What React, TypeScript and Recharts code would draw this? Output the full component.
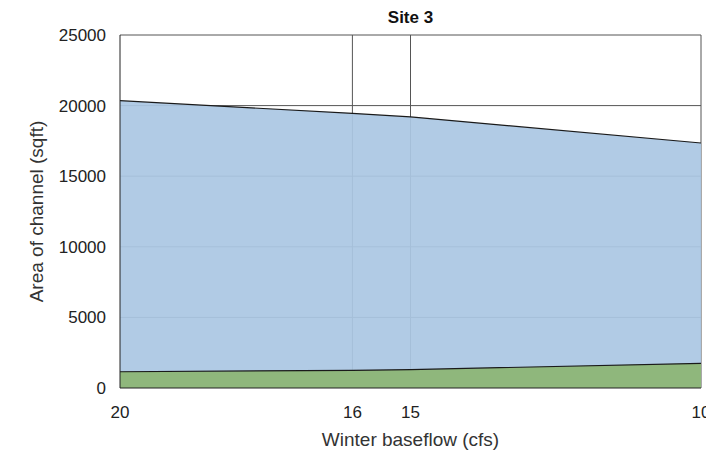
import React from 'react';
import { ComposedChart, Area, XAxis, YAxis, CartesianGrid, Label } from 'recharts';

const baseflow = [20, 16, 15, 10];
const channelArea = [20350, 19450, 19200, 17350];
const wettedArea = [1150, 1250, 1300, 1750];
const xTicks = [20, 16, 15, 10];
const yTicks = [0, 5000, 10000, 15000, 20000, 25000];

const data = baseflow.map((b, i) => ({
  flow: b,
  channel: channelArea[i],
  wetted: wettedArea[i],
}));

const font = 'Arial, "Liberation Sans", sans-serif';

const App: React.FC = () => {
  return (
    <div style={{ position: 'absolute', left: 0, top: 0, background: '#fff' }}>
      <div
        style={{
          position: 'absolute',
          left: 0,
          width: 821,
          top: 8,
          textAlign: 'center',
          fontFamily: font,
          fontWeight: 'bold',
          fontSize: 17,
          color: '#111',
        }}
      >
        Site 3
      </div>
      <ComposedChart
        width={706}
        height={456}
        data={data}
        margin={{ top: 35, right: 5, bottom: 0, left: 0 }}
      >
        <CartesianGrid
          stroke="#555"
          strokeWidth={1}
          horizontalValues={[5000, 10000, 15000, 20000, 25000]}
          verticalValues={[16, 15, 10]}
        />
        <XAxis
          dataKey="flow"
          type="number"
          domain={[10, 20]}
          reversed
          ticks={xTicks}
          interval={0}
          tickLine={false}
          axisLine={{ stroke: '#222' }}
          tick={{ fill: '#222', fontSize: 17, fontFamily: font }}
          tickMargin={12}
          height={68}
        >
          <Label
            value="Winter baseflow (cfs)"
            position="insideBottom"
            offset={10}
            style={{ fill: '#333', fontSize: 19, fontFamily: font }}
          />
        </XAxis>
        <YAxis
          type="number"
          domain={[0, 25000]}
          ticks={yTicks}
          interval={0}
          tickLine={false}
          axisLine={{ stroke: '#222' }}
          tick={{ fill: '#222', fontSize: 17, fontFamily: font }}
          tickMargin={8}
          width={120}
        >
          <Label
            value="Area of channel (sqft)"
            angle={-90}
            position="insideLeft"
            offset={36}
            style={{ textAnchor: 'middle', fill: '#333', fontSize: 19, fontFamily: font }}
          />
        </YAxis>
        <Area
          type="linear"
          dataKey="channel"
          stroke="#1a1a1a"
          strokeWidth={1.2}
          fill="#abc7e3"
          fillOpacity={0.93}
          isAnimationActive={false}
        />
        <Area
          type="linear"
          dataKey="wetted"
          stroke="#1a1a1a"
          strokeWidth={1.2}
          fill="#8fb77c"
          fillOpacity={1}
          isAnimationActive={false}
        />
      </ComposedChart>
    </div>
  );
};

export default App;
